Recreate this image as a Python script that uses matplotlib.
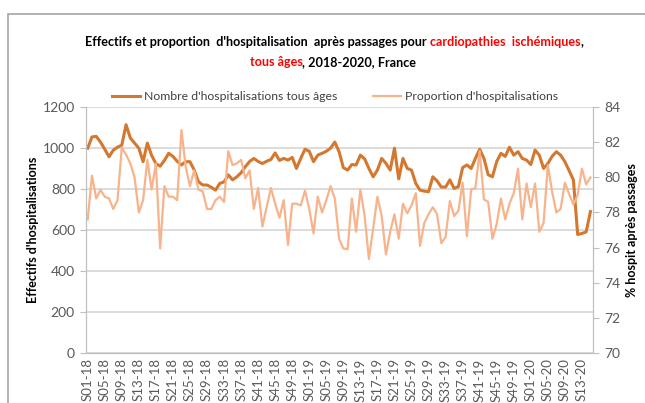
import matplotlib
matplotlib.use('Agg')
import matplotlib.pyplot as plt
from matplotlib.lines import Line2D
from matplotlib.patches import Rectangle

# Données hebdomadaires S01-18 -> S15-20
nb_hospit = [
    1000, 1055, 1058, 1030, 995, 958, 990, 1005, 1015, 1115,
    1050, 1025, 1000, 934, 1025, 965, 925, 912, 940, 975,
    960, 936, 918, 934, 934, 893, 836, 820, 820, 809,
    795, 828, 835, 870, 845, 860, 880, 910, 935, 950,
    935, 925, 936, 945, 977, 940, 950, 942, 955, 901,
    950, 995, 985, 934, 966, 975, 985, 1000, 1030, 983,
    905, 893, 920, 918, 966, 948, 901, 860, 893, 950,
    926, 893, 1000, 850, 950, 901, 893, 828, 795, 790,
    787, 860, 840, 810, 810, 845, 803, 812, 905, 918,
    901, 950, 995, 950, 870, 860, 935, 975, 960, 1005,
    966, 983, 950, 942, 920, 991, 966, 901, 925, 960,
    983, 966, 934, 890, 845, 578, 583, 591, 690,
]
prop_hospit = [
    77.6, 80.1, 78.8, 79.3, 78.9, 78.8, 78.2, 78.7, 81.7, 81.3,
    80.8, 80.0, 78.0, 78.7, 81.0, 79.3, 80.8, 75.95, 79.5, 78.9,
    78.9, 78.7, 82.7, 80.6, 79.5, 80.4, 79.3, 79.2, 78.2, 78.2,
    78.7, 78.9, 78.6, 81.5, 80.7, 80.8, 81.0, 79.95, 80.4, 78.2,
    79.4, 77.2, 78.3, 79.4, 78.5, 77.7, 78.7, 76.15, 78.5, 78.5,
    78.4, 79.25, 78.2, 76.8, 78.9, 78.0, 78.7, 79.5, 78.8, 76.5,
    75.95, 75.9, 78.8, 76.9, 79.3, 77.8, 75.35, 77.1, 78.9, 77.8,
    75.6, 76.9, 77.9, 76.5, 78.5, 77.95, 78.4, 79.1, 76.1, 77.4,
    77.9, 78.3, 77.9, 76.25, 76.6, 78.65, 77.8, 78.1, 79.7, 76.65,
    79.3, 79.4, 81.5, 78.75, 78.6, 76.5, 77.35, 78.8, 77.6, 78.5,
    79.1, 80.5, 77.6, 79.65, 78.3, 79.65, 76.9, 77.4, 80.7, 79.2,
    78.0, 78.2, 79.7, 79.05, 78.45, 79.0, 80.5, 79.6, 80.0,
]
semaines = [
    'S01-18', 'S05-18', 'S09-18', 'S13-18', 'S17-18', 'S21-18', 'S25-18',
    'S29-18', 'S33-18', 'S37-18', 'S41-18', 'S45-18', 'S49-18',
    'S01-19', 'S05-19', 'S09-19', 'S13-19', 'S17-19', 'S21-19', 'S25-19',
    'S29-19', 'S33-19', 'S37-19', 'S41-19', 'S45-19', 'S49-19',
    'S01-20', 'S05-20', 'S09-20', 'S13-20',
]

FONCE = '#d5782f'
CLAIR = '#f7b48c'
GRIS = '#595959'
GRILLE = '#d9d9d9'

plt.rcParams['font.family'] = ['Lato', 'DejaVu Sans']

W, H = 645, 403
fig = plt.figure(figsize=(W / 100, H / 100), dpi=100)

# cadre gris autour du graphique
fig.add_artist(Rectangle((8 / W, -0.05), 1.0, 1 - 14 / H + 0.05, transform=fig.transFigure,
                         fill=False, ec='#a6a6a6', lw=1.2))

ax = fig.add_axes([86 / W, 1 - 352.7 / H, (593 - 86) / W, (352.7 - 107.3) / H])
ax2 = ax.twinx()

x = list(range(len(nb_hospit)))
ax.plot(x, nb_hospit, color=FONCE, lw=2.2, solid_joinstyle='round')
ax2.plot(x, prop_hospit, color=CLAIR, lw=1.6, solid_joinstyle='round')

ax.set_xlim(-0.4, len(x) - 0.4)
ax.set_ylim(0, 1200)
ax.set_yticks(range(0, 1201, 200))
ax2.set_ylim(70, 84)
ax2.set_yticks(range(70, 85, 2))
ax.set_xticks(range(0, 4 * len(semaines), 4))
ax.set_xticklabels(semaines, rotation=90, fontsize=9.5, color=GRIS)

ax.yaxis.grid(True, color=GRILLE, lw=1.3)
ax.set_axisbelow(True)

for a in (ax, ax2):
    a.spines['top'].set_visible(False)
    for s in ('left', 'right', 'bottom'):
        a.spines[s].set_color('#bfbfbf')
    a.tick_params(axis='y', colors='#bfbfbf', labelcolor=GRIS, labelsize=10, length=4, pad=4)
ax.tick_params(axis='x', colors='#bfbfbf', labelcolor=GRIS, length=0, pad=4)

ax.set_ylabel("Effectifs d'hospitalisations", fontsize=9, fontweight='bold', color='black')
ax.yaxis.set_label_coords(-0.093, 0.5)
ax2.set_ylabel('% hospit après passages', fontsize=9, fontweight='bold', color='black', rotation=90)
ax2.yaxis.set_label_coords(1.066, 0.5)

# légende
poignees = [Line2D([], [], color=FONCE, lw=2.2), Line2D([], [], color=CLAIR, lw=1.6)]
fig.legend(poignees, ["Nombre d'hospitalisations tous âges", "Proportion d'hospitalisations"],
           loc='center', bbox_to_anchor=(335 / W, 1 - 97 / H), ncol=2, frameon=False,
           fontsize=8.8, handlelength=2.3, handletextpad=0.3, columnspacing=2.9,
           labelcolor='#404040')

# titre en plusieurs couleurs
rendu = fig.canvas.get_renderer()
kw = dict(fontsize=9.1, fontweight='bold', va='center')


def largeur(s):
    t = fig.text(0, 0, s, **kw)
    w = t.get_window_extent(rendu).width
    t.remove()
    return w


espace = largeur('a a') - largeur('aa')


def ligne_titre(y, morceaux, cx):
    textes, largeurs = [], []
    for m in morceaux:
        if isinstance(m, tuple):
            t = fig.text(0, y, m[0], color=m[1], **kw)
            textes.append(t)
            largeurs.append(t.get_window_extent(rendu).width)
        else:
            textes.append(None)
            largeurs.append(m * espace)
    x0 = cx - sum(largeurs) / 2
    for t, w in zip(textes, largeurs):
        if t is not None:
            t.set_x(x0 / W)
        x0 += w


ligne_titre(1 - 42 / H, [("Effectifs et proportion  d'hospitalisation  après passages pour", 'black'), 1,
                         ('cardiopathies  ischémiques', '#ff0000'), (',', 'black')], 334)
ligne_titre(1 - 62 / H, [('tous âges', '#ff0000'), (', 2018-2020, France', 'black')], 333)

fig.savefig('out.png', dpi=100)
